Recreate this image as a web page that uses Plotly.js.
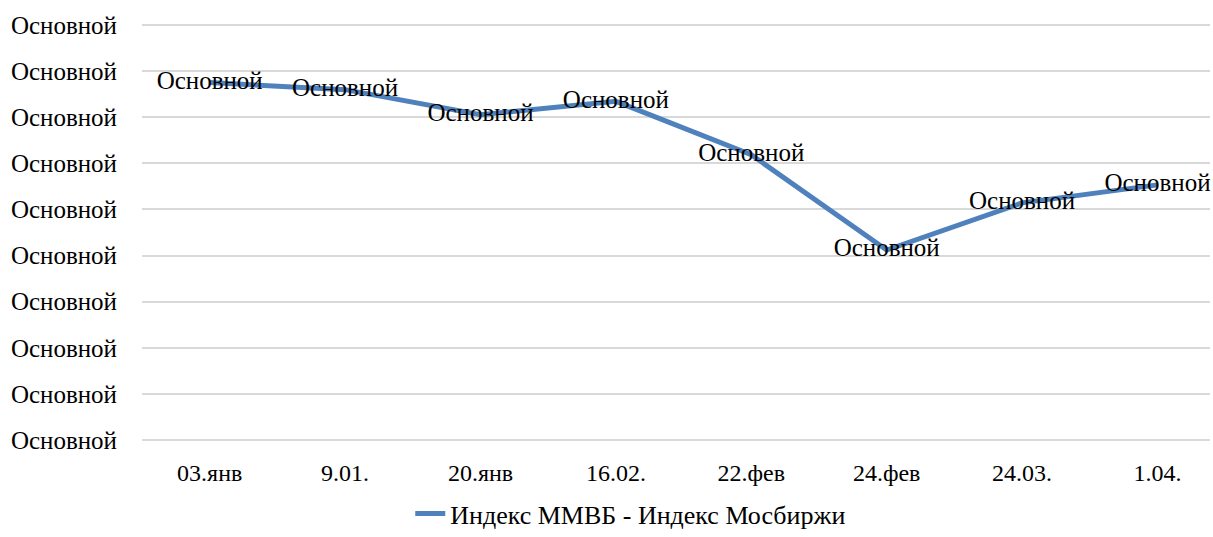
<!DOCTYPE html>
<html>
<head>
<meta charset="utf-8">
<script src="https://cdn.plot.ly/plotly-3.0.1.min.js"></script>
<style>html,body{margin:0;padding:0;background:#fff;}#chart{width:1213px;height:537px;}</style>
</head>
<body>
<div id="chart"></div>
<script>
const categories = ["03.янв", "9.01.", "20.янв", "16.02.", "22.фев", "24.фев", "24.03.", "1.04."];
const values = [3874, 3798, 3526, 3671, 3092, 2060, 2571, 2766];
const pointLabels = ["Основной", "Основной", "Основной", "Основной", "Основной", "Основной", "Основной", "Основной"];
const yTickValues = [0, 500, 1000, 1500, 2000, 2500, 3000, 3500, 4000, 4500];
const yTickLabels = ["Основной", "Основной", "Основной", "Основной", "Основной", "Основной", "Основной", "Основной", "Основной", "Основной"];
const seriesName = "Индекс ММВБ - Индекс Мосбиржи";

const font = "Liberation Serif, Times New Roman, serif";

const trace = {
  x: categories.map((c, i) => i),
  y: values,
  type: "scatter",
  mode: "lines+text",
  name: seriesName,
  text: pointLabels,
  textposition: "middle center",
  textfont: {family: font, size: 25, color: "#000"},
  line: {color: "#4F81BD", width: 5},
  cliponaxis: false
};

const layout = {
  width: 1213, height: 537,
  margin: {l: 142, r: 3, t: 23, b: 95},
  paper_bgcolor: "#fff", plot_bgcolor: "#fff",
  font: {family: font, size: 25, color: "#000"},
  showlegend: true,
  legend: {orientation: "h", xref: "container", x: 0.52, xanchor: "center", yref: "container", y: -0.028, yanchor: "bottom",
           font: {family: font, size: 26, color: "#000"}},
  xaxis: {
    range: [-0.5, 7.388],
    tickvals: categories.map((c, i) => i),
    ticktext: categories,
    showgrid: false, zeroline: false, showline: false,
    ticks: "", ticklabelstandoff: 14,
    tickfont: {family: font, size: 24}
  },
  yaxis: {
    range: [-20, 4520],
    tickvals: yTickValues,
    ticktext: yTickLabels,
    showgrid: true, gridcolor: "#d9d9d9", gridwidth: 2,
    zeroline: false, showline: false, ticks: "",
    ticklabelstandoff: 24,
    tickfont: {family: font, size: 25}
  }
};

Plotly.newPlot("chart", [trace], layout, {staticPlot: true, displayModeBar: false});
</script>
</body>
</html>
